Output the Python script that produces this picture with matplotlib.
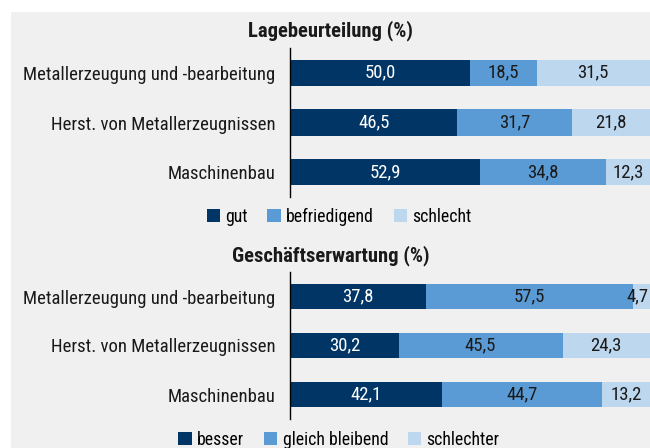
import matplotlib
matplotlib.use("Agg")
import matplotlib.pyplot as plt
from matplotlib.patches import Rectangle, Patch
from matplotlib import font_manager

available = {f.name for f in font_manager.fontManager.ttflist}
family = "DejaVu Sans"
for cand in ["Liberation Sans Narrow", "Roboto Condensed", "Roboto"]:
    if cand in available:
        family = cand
        break
plt.rcParams['font.family'] = [family, 'DejaVu Sans']

categories = ["Metallerzeugung und -bearbeitung", "Herst. von Metallerzeugnissen", "Maschinenbau"]

title_lage = "Lagebeurteilung (%)"
lage_labels = ["gut", "befriedigend", "schlecht"]
lage_gut = [50.0, 46.5, 52.9]
lage_befr = [18.5, 31.7, 34.8]
lage_schl = [31.5, 21.8, 12.3]

title_gesch = "Geschäftserwartung (%)"
gesch_labels = ["besser", "gleich bleibend", "schlechter"]
gesch_besser = [37.8, 30.2, 42.1]
gesch_gleich = [57.5, 45.5, 44.7]
gesch_schl = [4.7, 24.3, 13.2]

colors = ["#003566", "#5b9bd5", "#bdd7ee"]
txt_colors = ["white", "#1a1a1a", "#1a1a1a"]
bg = "#f0f0f0"

W, H = 650, 448
fig = plt.figure(figsize=(W / 100, H / 100), dpi=100)
fig.patch.set_facecolor("white")
fig.patches.append(Rectangle((11 / W, 0), 1, 1 - 12 / H, transform=fig.transFigure,
                             facecolor=bg, edgecolor="none", zorder=-10))

# fit label font size so the longest category label is ~258 px wide
renderer = fig.canvas.get_renderer()
probe = fig.text(0, 0, categories[0], fontsize=10)
w10 = probe.get_window_extent(renderer).width
probe.remove()
fs = min(13.5, 10 * 258 / w10)


def panel(rect, title, series, labels, title_y, legend_y):
    ax = fig.add_axes(rect)
    ax.set_facecolor("none")
    ypos = list(range(len(categories)))
    left = [0.0] * len(categories)
    for vals, col, tc in zip(series, colors, txt_colors):
        bars = ax.barh(ypos, vals, left=left, height=0.53, color=col, edgecolor="none")
        for b, v, l in zip(bars, vals, left):
            yc = b.get_y() + b.get_height() / 2
            lab = f"{v:.1f}".replace(".", ",")
            if l + v >= 99.9 and v < 6:
                ax.text(99.6, yc, lab, ha="right", va="center", color=tc, fontsize=fs)
            else:
                ax.text(l + v / 2, yc, lab, ha="center", va="center", color=tc, fontsize=fs)
        left = [a + b for a, b in zip(left, vals)]
    ax.set_xlim(0, 100)
    ax.set_ylim(2.5, -0.5)
    ax.set_yticks(ypos)
    ax.set_yticklabels(categories, fontsize=fs, color="#1a1a1a")
    ax.tick_params(axis="y", length=0, pad=10.5)
    ax.set_xticks([])
    for s in ["top", "right", "bottom"]:
        ax.spines[s].set_visible(False)
    ax.spines["left"].set_color("black")
    ax.spines["left"].set_linewidth(1.0)
    fig.text(331 / W, 1 - title_y / H, title, ha="center", va="center",
             fontsize=fs * 1.1, fontweight="bold", color="#1a1a1a")
    handles = [Patch(facecolor=c, edgecolor="none") for c in colors]
    fig.legend(handles, labels, loc="center", bbox_to_anchor=(339 / W, 1 - legend_y / H),
               ncol=3, frameon=False, fontsize=fs * 0.95, handlelength=0.75, handleheight=0.75,
               handletextpad=0.3, columnspacing=1.1, borderaxespad=0)
    return ax


panel([290 / W, 1 - 197 / H, 360 / W, 149 / H], title_lage,
      [lage_gut, lage_befr, lage_schl], lage_labels, 31, 217)
panel([290 / W, 1 - 419 / H, 360 / W, 147 / H], title_gesch,
      [gesch_besser, gesch_gleich, gesch_schl], gesch_labels, 256, 440)

fig.savefig("out.png", dpi=100, facecolor=fig.get_facecolor())
